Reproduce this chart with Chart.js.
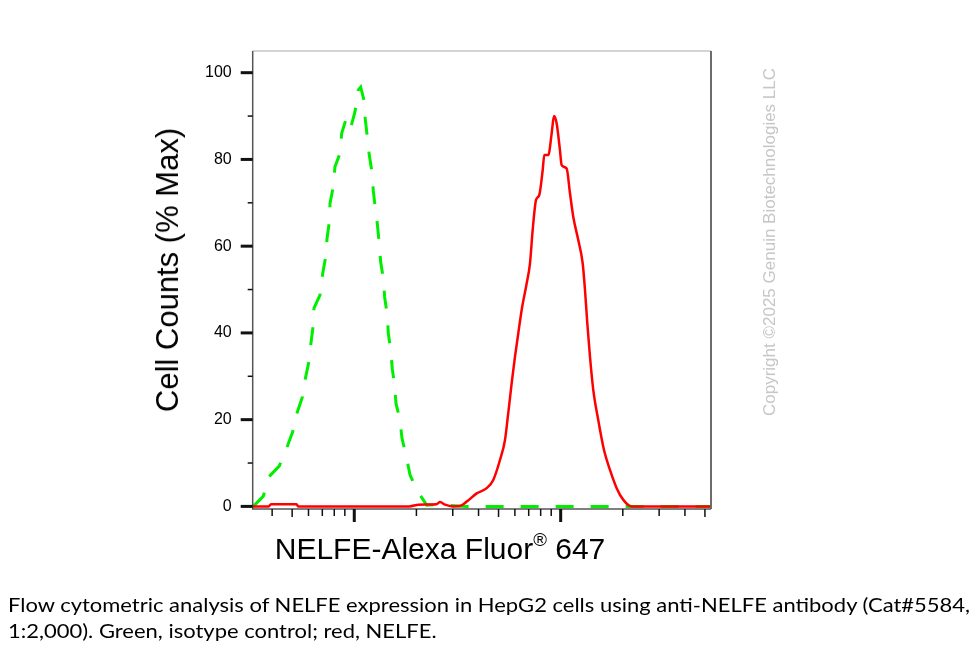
<!DOCTYPE html>
<html lang="en">
<head>
  <meta charset="UTF-8" />
  <title>NELFE flow cytometry</title>
  <script src="https://cdn.jsdelivr.net/npm/chart.js"></script>
  <style>
    html, body {
      margin: 0;
      padding: 0;
      background: #fff;
    }

    .page {
      position: relative;
      width: 980px;
      height: 654px;
      overflow: hidden;
    }

    #flow {
      position: absolute;
      left: 0;
      top: 0;
    }

    .ytitle, .xtitle, .mark {
      position: absolute;
      white-space: nowrap;
      font-family: "Liberation Sans", Arial, sans-serif;
      color: #000;
    }

    .ytitle {
      left: 168px;
      top: 270px;
      font-size: 31px;
      transform: translate(-50%, -50%) rotate(-90deg);
    }

    .xtitle {
      left: 440px;
      top: 548px;
      font-size: 30px;
      transform: translate(-50%, -50%);
    }

    .xtitle sup {
      font-size: 0.62em;
      position: relative;
      top: -0.1em;
    }

    .mark {
      left: 770px;
      top: 242px;
      font-size: 17px;
      color: #c6c6c6;
      transform: translate(-50%, -50%) rotate(-90deg);
    }

    .caption {
      position: absolute;
      left: 8px;
      top: 592px;
      font-family: Lato, "Open Sans", sans-serif;
      font-size: 19px;
      line-height: 26px;
      color: #000;
      white-space: nowrap;
    }

    .caption span {
      display: inline-block;
      transform-origin: left center;
    }
  </style>
</head>
<body>
  <div class="page">
    <canvas id="flow" width="980" height="654"></canvas>
    <div class="ytitle">Cell Counts (% Max)</div>
    <div class="xtitle">NELFE-Alexa Fluor<sup>®</sup> 647</div>
    <div class="mark">Copyright ©2025 Genuin Biotechnologies LLC</div>
    <div class="caption">
      <span id="cap1">Flow cytometric analysis of NELFE expression in HepG2 cells using anti-NELFE antibody (Cat#5584,</span><br>
      <span id="cap2">1:2,000). Green, isotype control; red, NELFE.</span>
    </div>
  </div>

  <script>
    // isotype control (green, dashed)
    const greenX = [324, 362, 387, 433, 470, 503, 526, 560, 577, 603, 615, 631, 638, 682, 703, 727, 738, 757, 763, 791,
      806, 853, 869, 919, 964, 1008, 1045, 1074, 1114, 1130, 1156, 1182, 1218, 1236, 1264, 1292, 1321, 1342, 1382, 1403,
      1445, 1462, 1500, 1528, 1570, 1592, 1665, 1703, 1780, 1862, 2005, 2244, 2500, 2900, 3500, 53500];
    const greenY = [0, 2.3, 6.9, 9.3, 13.4, 17.2, 21.3, 25.2, 29.1, 33.4, 37.2, 41.4, 45.7, 48.7, 53.7, 57.6, 61.8, 65.6, 69.9, 73.7,
      78.3, 81.4, 86.0, 89.8, 87.5, 91.0, 96.0, 96.7, 93.7, 89.4, 85.2, 81.0, 77.1, 72.9, 68.7, 65.3, 60.6, 56.4, 52.6, 48.3,
      44.1, 39.9, 36.1, 31.8, 27.6, 23.8, 19.9, 15.7, 11.9, 7.3, 3.8, 0.3, 0.4, 0.2, 0, 0];

    // NELFE (red, solid)
    const redX = [322, 385, 395, 525, 535, 1850, 2050, 2500, 2603, 2750, 3006, 3251, 3504, 3917, 4380, 4715, 5081, 5373, 5572, 5789,
      6006, 6232, 6472, 6842, 7100, 7317, 7593, 7878, 8181, 8328, 8710, 9045, 9280, 9563, 9922, 10111, 10690, 11094, 11508, 12170,
      12786, 13117, 13460, 13868, 14390, 15210, 16214, 17334, 18677, 20111, 22080, 53500];
    const redY = [0, 0, 0.5, 0.5, 0, 0, 0.4, 0.5, 1.0, 0.4, 0, 0.1, 1.1, 3.0, 4.2, 6.1, 10.7, 15.3, 21.5, 28.4,
      34.5, 39.9, 45.3, 51.4, 56.0, 63.7, 70.6, 71.8, 77.5, 81.0, 81.0, 86.0, 90.0, 88.3, 82.1, 78.7, 77.9, 72.2, 66.8, 61.4,
      56.0, 49.9, 42.2, 34.5, 26.8, 19.9, 13.0, 8.4, 4.2, 1.5, 0, 0];

    const yTicks = [0, 5, 10, 15, 20, 25, 30, 35, 40, 45, 50, 55, 60, 65, 70, 75, 80, 85, 90, 95, 100, 105];
    const yLabels = [0, 20, 40, 60, 80, 100];
    const xTicks = [400, 500, 600, 700, 800, 900, 1000, 2000, 3000, 4000, 5000, 6000, 7000, 8000, 9000, 10000,
      20000, 30000, 40000, 50000];
    const xMajor = [1000, 10000];

    const toPoints = (xs, ys) => xs.map((x, i) => ({ x, y: ys[i] }));

    // frame and tick marks, long ones on decades / labelled values
    const axisMarks = {
      id: 'axisMarks',
      afterDraw(chart) {
        const { ctx, chartArea: a, scales: { x, y } } = chart;
        ctx.save();
        ctx.lineCap = 'butt';

        ctx.strokeStyle = '#a8a8a8';
        ctx.lineWidth = 1;
        ctx.beginPath();
        ctx.moveTo(a.left, a.top);
        ctx.lineTo(a.right, a.top);
        ctx.stroke();

        ctx.strokeStyle = '#6c6c6c';
        ctx.lineWidth = 2;
        ctx.beginPath();
        ctx.moveTo(a.right, a.top);
        ctx.lineTo(a.right, a.bottom);
        ctx.stroke();

        ctx.strokeStyle = '#555';
        ctx.lineWidth = 1.5;
        ctx.beginPath();
        ctx.moveTo(a.left, a.top);
        ctx.lineTo(a.left, a.bottom);
        ctx.lineTo(a.right, a.bottom);
        ctx.stroke();

        ctx.strokeStyle = '#111';
        y.ticks.forEach(t => {
          const py = y.getPixelForValue(t.value);
          const big = yLabels.includes(t.value);
          ctx.lineWidth = big ? 3 : 1.5;
          ctx.beginPath();
          ctx.moveTo(a.left - (big ? 12 : 5), py);
          ctx.lineTo(a.left, py);
          ctx.stroke();
        });

        x.ticks.forEach(t => {
          const px = x.getPixelForValue(t.value);
          const big = xMajor.includes(t.value);
          const five = String(t.value)[0] === '5';
          ctx.lineWidth = big ? 3 : 1.5;
          ctx.beginPath();
          ctx.moveTo(px, a.bottom);
          ctx.lineTo(px, a.bottom + (big ? 13 : five ? 8 : 7));
          ctx.stroke();
        });
        ctx.restore();
      }
    };

    new Chart(document.getElementById('flow'), {
      type: 'line',
      data: {
        datasets: [
          {
            label: 'NELFE',
            data: toPoints(redX, redY),
            borderColor: '#ff0000',
            borderWidth: 2.5,
            pointRadius: 0,
            cubicInterpolationMode: 'monotone',
            fill: false,
            order: 1
          },
          {
            label: 'Isotype control',
            data: toPoints(greenX, greenY),
            borderColor: '#00ee00',
            borderWidth: 3,
            borderDash: [18, 17],
            pointRadius: 0,
            tension: 0,
            fill: false,
            order: 2
          }
        ]
      },
      options: {
        responsive: false,
        animation: false,
        layout: { padding: { left: 0, top: 51, right: 269, bottom: 0 } },
        plugins: {
          legend: { display: false },
          tooltip: { enabled: false }
        },
        scales: {
          x: {
            type: 'logarithmic',
            min: 322,
            max: 53500,
            grid: { display: false, drawTicks: false },
            border: { display: false },
            ticks: { display: false },
            afterBuildTicks: s => { s.ticks = xTicks.map(v => ({ value: v, major: xMajor.includes(v) })); },
            afterFit: s => { s.height = 145; }
          },
          y: {
            type: 'linear',
            min: -0.6,
            max: 105,
            grid: { display: false, drawTicks: false },
            border: { display: false },
            ticks: {
              padding: 21,
              color: '#000',
              font: { family: "'Liberation Sans', Arial, sans-serif", size: 16 },
              callback: v => (yLabels.includes(v) ? String(v) : '')
            },
            afterBuildTicks: s => { s.ticks = yTicks.map(v => ({ value: v })); },
            afterFit: s => { s.width = 252.7; }
          }
        }
      },
      plugins: [axisMarks]
    });

    // squeeze the caption line to the width of the original
    const cap1 = document.getElementById('cap1');
    const cap2 = document.getElementById('cap2');
    const k = 962 / cap1.getBoundingClientRect().width;
    cap1.style.transform = 'scaleX(' + k + ')';
    cap2.style.transform = 'scaleX(' + k + ')';
  </script>
</body>
</html>
